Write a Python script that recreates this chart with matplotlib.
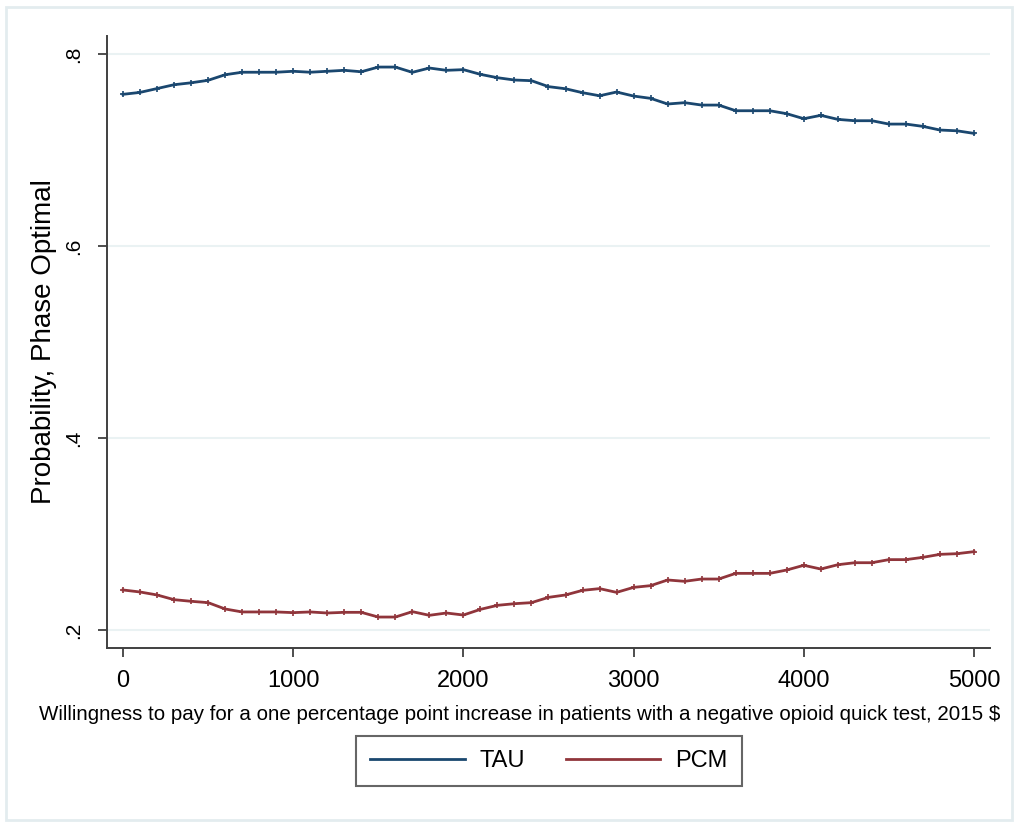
import matplotlib
matplotlib.use("Agg")
import matplotlib.pyplot as plt
from matplotlib.patches import Rectangle

wtp = list(range(0, 5001, 100))
tau = [0.758, 0.760, 0.764, 0.768, 0.770, 0.7726, 0.7784, 0.781, 0.781, 0.781,
       0.782, 0.781, 0.782, 0.783, 0.7815, 0.7864, 0.7864, 0.7809, 0.7854, 0.783,
       0.7837, 0.7788, 0.7753, 0.7729, 0.7722, 0.766, 0.7638, 0.7597, 0.7565, 0.7604,
       0.7562, 0.7538, 0.7479, 0.7493, 0.7468, 0.7468, 0.7409, 0.7409, 0.7409, 0.7378,
       0.7326, 0.7361, 0.7319, 0.7305, 0.7305, 0.727, 0.727, 0.7246, 0.7208, 0.720,
       0.7173]
pcm = [0.2417, 0.2396, 0.2365, 0.2316, 0.2299, 0.2285, 0.2219, 0.2188, 0.2188, 0.2188,
       0.2181, 0.2188, 0.2177, 0.2184, 0.2184, 0.2135, 0.2135, 0.2191, 0.2153, 0.2177,
       0.2156, 0.2215, 0.2257, 0.2274, 0.2285, 0.2340, 0.2365, 0.2413, 0.2431, 0.2392,
       0.2444, 0.2462, 0.2521, 0.2507, 0.2531, 0.2531, 0.2590, 0.2590, 0.2590, 0.2625,
       0.2674, 0.2635, 0.2680, 0.2701, 0.2701, 0.2733, 0.2733, 0.2757, 0.2788, 0.2795,
       0.2816]
series_names = ["TAU", "PCM"]
xticks = [0, 1000, 2000, 3000, 4000, 5000]
yticks = [0.2, 0.4, 0.6, 0.8]
ytick_labels = [".2", ".4", ".6", ".8"]
xlabel = "Willingness to pay for a one percentage point increase in patients with a negative opioid quick test, 2015 $"
ylabel = "Probability, Phase Optimal"

plt.rcParams['font.family'] = ['Liberation Sans', 'DejaVu Sans']

W, H = 1018, 825
fig = plt.figure(figsize=(W / 100, H / 100), dpi=100)
fig.patch.set_facecolor('white')

# outer graph-region border
fig.patches.append(Rectangle((6 / W, 5 / H), 1006 / W, 813 / H, transform=fig.transFigure,
                             fill=False, edgecolor='#e3ecef', linewidth=2.0))

ax = fig.add_axes([107 / W, 1 - 648 / H, 883 / W, 612 / H])
navy = '#1a476f'
maroon = '#90353b'
ax.plot(wtp, tau, color=navy, lw=2.0, marker='+', ms=4, mew=1.2, label=series_names[0], zorder=3)
ax.plot(wtp, pcm, color=maroon, lw=2.0, marker='+', ms=4, mew=1.2, label=series_names[1], zorder=3)

ax.set_xlim(-94, 5094)
ax.set_ylim(0.18125, 0.81875)
ax.set_xticks(xticks)
ax.set_xticklabels([str(t) for t in xticks], fontsize=17)
ax.set_yticks(yticks)
ax.set_yticklabels(ytick_labels, fontsize=15, rotation=90, va='center')
ax.grid(axis='y', color='#eaf2f3', lw=1.5, zorder=0)
ax.grid(axis='x', visible=False)

for s in ['top', 'right']:
    ax.spines[s].set_visible(False)
for s in ['left', 'bottom']:
    ax.spines[s].set_color('#404040')
    ax.spines[s].set_linewidth(1.4)
ax.tick_params(axis='both', direction='out', length=6.5, width=1.3, color='#404040')
ax.tick_params(axis='x', pad=9)
ax.tick_params(axis='y', pad=11)

ax.set_ylabel(ylabel, fontsize=20, labelpad=5)
xl = fig.text(520 / W, 1 - 714 / H, xlabel, fontsize=17, ha='center', va='center')
# shrink x-axis title to fit the reference's width
fig.canvas.draw()
r = fig.canvas.get_renderer()
wpx = xl.get_window_extent(r).width
xl.set_fontsize(17 * 968 / wpx)

leg = ax.legend(loc='center', bbox_to_anchor=(549 / W, 1 - 761 / H), bbox_transform=fig.transFigure,
                ncol=2, frameon=True, fancybox=False, fontsize=17, handlelength=4.0,
                columnspacing=1.7, handletextpad=0.65, borderpad=0.6, borderaxespad=0)
leg.get_frame().set_edgecolor('#404040')
leg.get_frame().set_linewidth(1.5)
for h in leg.legend_handles:
    h.set_marker('')
    h.set_linewidth(2.0)

fig.savefig('out.png', dpi=100, facecolor='white')
